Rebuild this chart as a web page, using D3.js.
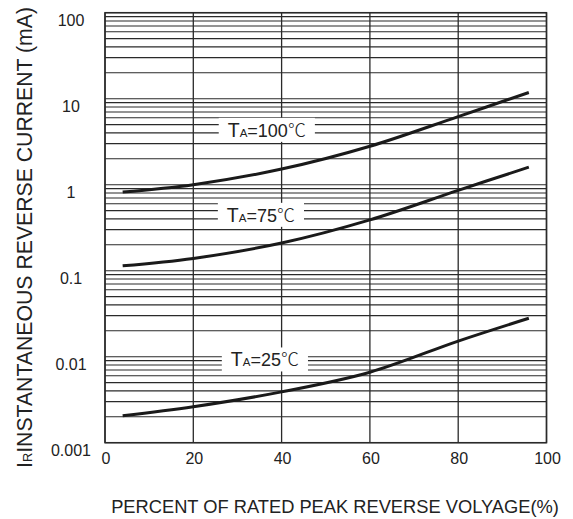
<!DOCTYPE html>
<html>
<head>
<meta charset="utf-8">
<script src="https://cdnjs.cloudflare.com/ajax/libs/d3/7.8.5/d3.min.js"></script>
<style>
  body { margin: 0; background: #fff; }
  svg text { font-family: Arial, "Liberation Sans", sans-serif; fill: #222; }
</style>
</head>
<body>
<div id="chart"></div>
<script>
/*------------------------------
 DATA
 ----------------------------*/
const PERCENT = [4, 20, 40, 60, 80, 96];
const IR_100C = [0.82, 1.0, 1.52, 2.8, 6.2, 11.8];
const IR_75C = [0.114, 0.139, 0.21, 0.39, 0.86, 1.6];
const IR_25C = [0.00206, 0.00262, 0.0039, 0.0066, 0.0152, 0.028];

const X_TICKS = [0, 20, 40, 60, 80, 100];
const Y_TICKS = [100, 10, 1, 0.1, 0.01, 0.001];
const Y_TICK_LABELS = ["100", "10", "1", "0.1", "0.01", "0.001"];

const CURVE_NAMES = ["100", "75", "25"];
const LABEL_PCT = [27.8, 27.6, 28.5];
const LABEL_IR = [3.6, 0.37, 0.0077];

/*------------------------------
 LAYOUT
 ----------------------------*/
const SVG_WIDTH = 573;
const SVG_HEIGHT = 519;
const PLOT = {left: 105, right: 546.5, top: 12.7, bottom: 442.7};

const svg = d3.select("#chart").append("svg")
    .attr("width", SVG_WIDTH)
    .attr("height", SVG_HEIGHT);

const x = d3.scaleLinear().domain([0, 100]).range([PLOT.left, PLOT.right]);
const y = d3.scaleLog().domain([0.001, 100]).range([PLOT.bottom, PLOT.top]);

// minor + major horizontal log grid (1..9 per decade)
let hLines = [];
for (let e = -3; e < 2; e++) {
    for (let m = 1; m < 10; m++) hLines.push(m * Math.pow(10, e));
}
hLines.push(100);

const gridColor = "#2a2a2a";

svg.append("g").selectAll("line")
    .data(hLines)
    .enter().append("line")
    .attr("x1", PLOT.left).attr("x2", PLOT.right)
    .attr("y1", d => y(d)).attr("y2", d => y(d))
    .attr("stroke", gridColor)
    .attr("stroke-width", 1.1);

// label boxes knock out horizontal grid lines
const labelGroup = svg.append("g");
const boxGroup = labelGroup.append("g");
const textGroup = labelGroup.append("g");

CURVE_NAMES.forEach((name, i) => {
    let t = textGroup.append("text")
        .attr("x", x(LABEL_PCT[i]))
        .attr("y", y(LABEL_IR[i]))
        .attr("font-size", 18);
    t.append("tspan").attr("font-size", 19.5).text("T");
    t.append("tspan").attr("font-size", 11.5).text("A");
    t.append("tspan").text("=" + name);
    t.append("tspan").attr("font-family", "'Noto Sans CJK SC', 'DejaVu Sans', sans-serif")
        .attr("font-size", 18).attr("font-weight", 300).text("\u2103");
    let bb = t.node().getBBox();
    boxGroup.append("rect")
        .attr("x", bb.x - 9)
        .attr("y", bb.y + 2)
        .attr("width", bb.width + 18)
        .attr("height", bb.height - 2)
        .attr("fill", "#fff");
});

// vertical grid drawn over boxes
svg.append("g").selectAll("line")
    .data(X_TICKS)
    .enter().append("line")
    .attr("x1", d => x(d)).attr("x2", d => x(d))
    .attr("y1", PLOT.top).attr("y2", PLOT.bottom)
    .attr("stroke", gridColor)
    .attr("stroke-width", 1.3);

// frame
svg.append("rect")
    .attr("x", PLOT.left).attr("y", PLOT.top)
    .attr("width", PLOT.right - PLOT.left)
    .attr("height", PLOT.bottom - PLOT.top)
    .attr("fill", "none")
    .attr("stroke", gridColor)
    .attr("stroke-width", 1.5);

// keep labels on top of the grid
labelGroup.raise();

// curves
const line = d3.line()
    .x(d => x(d[0]))
    .y(d => y(d[1]))
    .curve(d3.curveCatmullRom);

[IR_100C, IR_75C, IR_25C].forEach(series => {
    svg.append("path")
        .datum(PERCENT.map((p, i) => [p, series[i]]))
        .attr("d", line)
        .attr("fill", "none")
        .attr("stroke", "#1a1a1a")
        .attr("stroke-width", 3);
});

// tick labels
svg.append("g").selectAll("text")
    .data(X_TICKS)
    .enter().append("text")
    .attr("x", d => x(d) + 1)
    .attr("y", PLOT.bottom + 21)
    .attr("text-anchor", "middle")
    .attr("font-size", 16)
    .text(d => d);

svg.append("g").selectAll("text")
    .data(Y_TICKS)
    .enter().append("text")
    .attr("x", 71)
    .attr("y", d => y(d) + 13.5)
    .attr("text-anchor", "middle")
    .attr("font-size", 16)
    .text((d, i) => Y_TICK_LABELS[i]);

// axis titles
svg.append("text")
    .attr("x", 335)
    .attr("y", 513)
    .attr("text-anchor", "middle")
    .attr("font-size", 18.3)
    .text("PERCENT OF RATED PEAK REVERSE VOLYAGE(%)");

let yTitle = svg.append("text")
    .attr("transform", "translate(32, 237.5) rotate(-90)")
    .attr("text-anchor", "middle")
    .attr("font-size", 21.5)
    .attr("textLength", 461)
    .attr("lengthAdjust", "spacingAndGlyphs");
yTitle.append("tspan").text("I");
yTitle.append("tspan").attr("font-size", 13).text("R");
yTitle.append("tspan").text("INSTANTANEOUS REVERSE CURRENT (mA)");
</script>
</body>
</html>
